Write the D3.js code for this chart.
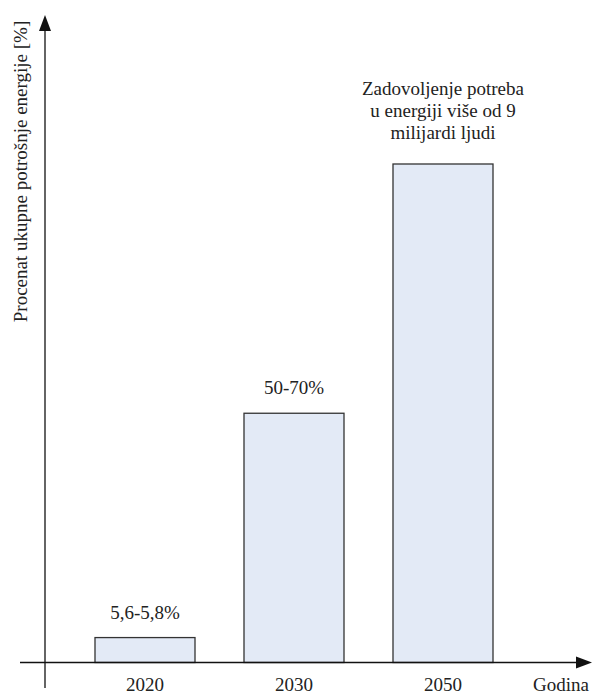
<!DOCTYPE html>
<html><head><meta charset="utf-8">
<script src="https://cdn.jsdelivr.net/npm/d3@7"></script>
<style>body{margin:0;background:#fff}svg{display:block}</style>
</head><body>
<script>
const categories = ["2020","2030","2050"];
const values = [5, 50, 100];
const valueLabels = ["5,6-5,8%","50-70%",""];
const annotation = ["Zadovoljenje potreba","u energiji više od 9","milijardi ljudi"];
const yTitle = "Procenat ukupne potrošnje energije [%]";
const xTitle = "Godina";

const FONT = "'Liberation Serif', Tinos, 'Times New Roman', 'DejaVu Serif', serif";
const FS = 19;
const W=594,H=695;
const svg=d3.select("body").append("svg").attr("width",W).attr("height",H)
  .style("font-family",FONT).attr("fill","#222");
const axisY=662.5, axisX=45;
const x=d3.scaleBand().domain(categories).range([20.5,567.5]).paddingInner(49/149).paddingOuter(0.5);
const y=d3.scaleLinear().domain([0,100]).range([axisY,164]);

svg.selectAll("rect.bar").data(values).join("rect")
 .attr("x",(d,i)=>x(categories[i])).attr("width",x.bandwidth())
 .attr("y",d=>y(d)).attr("height",d=>axisY-y(d))
 .attr("fill","#e3eaf6").attr("stroke","#333").attr("stroke-width",1.3);

svg.append("line").attr("x1",20).attr("x2",578).attr("y1",axisY).attr("y2",axisY).attr("stroke","#111").attr("stroke-width",1.3);
svg.append("path").attr("d",`M576,${axisY-6}L592,${axisY}L576,${axisY+6}Z`).attr("fill","#111");
svg.append("line").attr("x1",axisX).attr("x2",axisX).attr("y1",29).attr("y2",688).attr("stroke","#111").attr("stroke-width",1.3);
svg.append("path").attr("d",`M${axisX-6},31L${axisX},15L${axisX+6},31Z`).attr("fill","#111");

const T = sel => sel.attr("font-family",FONT).attr("fill","#222").attr("font-size",FS);

svg.selectAll("text.cat").data(categories).join("text").call(T)
 .attr("x",d=>x(d)+x.bandwidth()/2).attr("y",691).attr("text-anchor","middle").text(d=>d);
svg.append("text").call(T).attr("x",561).attr("y",691).attr("text-anchor","middle").text(xTitle);

svg.selectAll("text.val").data(values).join("text").call(T)
 .attr("x",(d,i)=>x(categories[i])+x.bandwidth()/2).attr("y",d=>y(d)-19)
 .attr("text-anchor","middle").text((d,i)=>valueLabels[i]);

svg.selectAll("text.ann").data(annotation).join("text").call(T)
 .attr("x",x("2050")+x.bandwidth()/2).attr("y",(d,i)=>95+i*22)
 .attr("text-anchor","middle").text(d=>d);

svg.append("text").call(T).attr("transform","translate(27,171.5) rotate(-90)").attr("text-anchor","middle").text(yTitle);
</script>
</body></html>
